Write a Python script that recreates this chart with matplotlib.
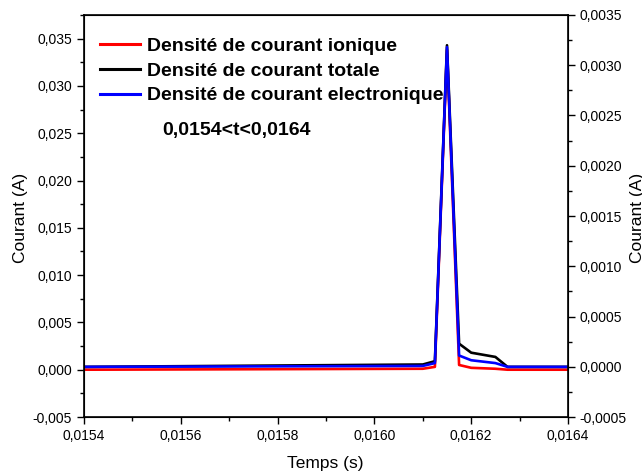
import numpy as np
import matplotlib
matplotlib.use("Agg")
import matplotlib.pyplot as plt
from matplotlib.ticker import MultipleLocator, FuncFormatter

plt.rcParams['font.family'] = ['Liberation Sans', 'DejaVu Sans']

# time points (s)
temps = [0.0154, 0.0161, 0.016125, 0.01615, 0.016175, 0.0162, 0.01625, 0.016275, 0.0164]
# currents (A)
ionique = [0.0, 0.0001, 0.0003, 0.0338, 0.0005, 0.0002, 0.0001, 0.0, 0.0]
totale = [0.0003, 0.00055, 0.0009, 0.0343, 0.00275, 0.0018, 0.00135, 0.0003, 0.0003]
electronique = [0.0003, 0.0004, 0.0007, 0.0341, 0.0015, 0.001, 0.0007, 0.0003, 0.0003]

labels = ["Densité de courant ionique", "Densité de courant totale",
          "Densité de courant electronique"]


def comma(fmt):
  return FuncFormatter(lambda v, p: (fmt % v).replace('.', ','))


fig = plt.figure(figsize=(6.42, 4.73), dpi=100)
ax = fig.add_axes([84/642, 1-417/473, 484/642, 402/473])

ax.plot(temps, ionique, color='red', lw=1.9, label=labels[0])
ax.plot(temps, totale, color='black', lw=1.9, label=labels[1])
ax.plot(temps, electronique, color='blue', lw=1.9, label=labels[2])

ax.set_xlim(0.0154, 0.0164)
ax.set_ylim(-0.005, 0.0375)
ax.xaxis.set_major_locator(MultipleLocator(0.0002))
ax.xaxis.set_minor_locator(MultipleLocator(0.0001))
ax.yaxis.set_major_locator(MultipleLocator(0.005))
ax.yaxis.set_minor_locator(MultipleLocator(0.0025))
ax.xaxis.set_major_formatter(comma('%.4f'))
ax.yaxis.set_major_formatter(comma('%.3f'))
ax.tick_params(which='major', direction='out', length=5, width=1, labelsize=10)
ax.tick_params(which='minor', direction='out', length=3, width=1)
ax.tick_params(axis='x', top=False, which='both')
ax.tick_params(axis='y', right=False, which='both')
for s in ax.spines.values():
  s.set_linewidth(1.2)

ax2 = ax.twinx()
ax2.set_ylim(-0.0005, 0.0035)
ax2.yaxis.set_major_locator(MultipleLocator(0.0005))
ax2.yaxis.set_minor_locator(MultipleLocator(0.00025))
ax2.yaxis.set_major_formatter(comma('%.4f'))
ax2.tick_params(which='major', direction='out', length=5, width=1, labelsize=10)
ax2.tick_params(which='minor', direction='out', length=3, width=1)

leg = ax.legend(loc='upper left', bbox_to_anchor=(0.033, 0.944), frameon=False,
                handlelength=2.06, handletextpad=0.36, labelspacing=0.36,
                borderaxespad=0, borderpad=0,
                prop={'weight': 'bold', 'size': 14})
for h in leg.get_lines():
  h.set_linewidth(2.2)

ax.text(0.161, 0.712, "0,0154<t<0,0164", transform=ax.transAxes,
        fontsize=14, fontweight='bold', ha='left', va='center')

fig.text(13/642, 1-218/473, "Courant (A)", rotation=90, fontsize=12.5,
         ha='left', va='center')
fig.text(630/642, 1-218/473, "Courant (A)", rotation=90, fontsize=12.5,
         ha='left', va='center')
fig.text(325/642, 1-463/473, "Temps (s)", fontsize=12.5, ha='center', va='center')

fig.savefig("out.png", dpi=100)
